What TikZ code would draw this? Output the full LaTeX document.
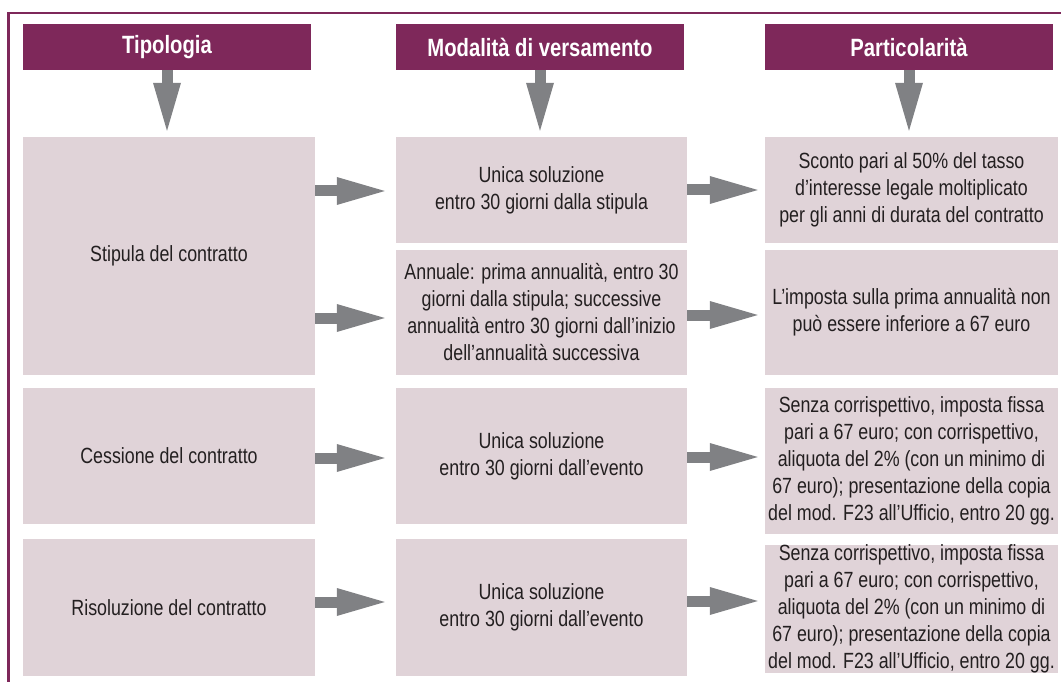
\documentclass[tikz,border=0pt]{standalone}
\usepackage{fontspec}
\setmainfont[FakeStretch=0.81]{Liberation Sans}
\usetikzlibrary{arrows.meta}
\definecolor{plum}{HTML}{7E285A}
\definecolor{boxpink}{HTML}{E0D3D8}
\definecolor{arrowgray}{HTML}{808184}
\definecolor{ink}{HTML}{231F20}
\begin{document}
\begin{tikzpicture}[x=1pt,y=-1pt,
  head/.style={fill=plum, text=white, font=\fontsize{25}{30}\selectfont\bfseries,
    minimum width=288pt, minimum height=46pt, inner sep=0pt},
  cell/.style={fill=boxpink, text=ink, font=\fontsize{22}{27}\selectfont,
    align=center, inner sep=0pt},
  tip/.style={-{Triangle[width=28pt,length=48pt,line width=0pt]}},
  downarrow/.style={draw=arrowgray, line width=11pt, tip, shorten >=6pt},
  rarrow/.style={draw=arrowgray, line width=11pt, tip},
  frame/.style={draw=plum, line width=2.5pt, line join=miter}]
\useasboundingbox (0,0) rectangle (1061,682);
\draw[frame] (8.5,682) -- (8.5,13) -- (1061,13);
% headers
\node[head] (h1) at (167,47) {Tipologia};
\node[head] (h2) at (540,47) {Modalità di versamento};
\node[head] (h3) at (909,47) {Particolarità};
% column 1
\node[cell, minimum width=292pt, minimum height=238pt] (t1) at (169,256) {Stipula del contratto};
\node[cell, minimum width=292pt, minimum height=136pt] (t2) at (169,456) {Cessione del contratto};
\node[cell, minimum width=292pt, minimum height=137pt] (t3) at (169,607.5) {Risoluzione del contratto};
% column 2
\node[cell, minimum width=291pt, minimum height=106pt] (m1) at (541.5,190) {Unica soluzione\\entro 30 giorni dalla stipula};
\node[cell, minimum width=291pt, minimum height=125pt] (m2) at (541.5,312.5) {Annuale: prima annualità, entro 30\\giorni dalla stipula; successive\\annualità entro 30 giorni dall’inizio\\dell’annualità successiva};
\node[cell, minimum width=291pt, minimum height=136pt] (m3) at (541.5,456) {Unica soluzione\\entro 30 giorni dall’evento};
\node[cell, minimum width=291pt, minimum height=137pt] (m4) at (541.5,607.5) {Unica soluzione\\entro 30 giorni dall’evento};
% column 3
\node[cell, minimum width=293pt, minimum height=106pt] (p1) at (911.5,190) {Sconto pari al 50\% del tasso\\d’interesse legale moltiplicato\\per gli anni di durata del contratto};
\node[cell, minimum width=293pt, minimum height=125pt] (p2) at (911.5,312.5) {L’imposta sulla prima annualità non\\può essere inferiore a 67 euro};
\node[cell, minimum width=293pt, minimum height=146pt] (p3) at (911.5,461) {Senza corrispettivo, imposta fissa\\pari a 67 euro; con corrispettivo,\\aliquota del 2\% (con un minimo di\\67 euro); presentazione della copia\\del mod. F23 all’Ufficio, entro 20 gg.};
\node[cell, minimum width=293pt, minimum height=126pt] (p4) at (911.5,609) {Senza corrispettivo, imposta fissa\\pari a 67 euro; con corrispettivo,\\aliquota del 2\% (con un minimo di\\67 euro); presentazione della copia\\del mod. F23 all’Ufficio, entro 20 gg.};
% down arrows
\draw[downarrow] (h1.south) -- (h1.south |- t1.north);
\draw[downarrow] (h2.south) -- (h2.south |- m1.north);
\draw[downarrow] (h3.south) -- (h3.south |- p1.north);
% right arrows
\draw[rarrow, shorten >=11pt] (t1.east |- 0,191) -- (m1.west |- 0,191);
\draw[rarrow, shorten >=11pt] (t1.east |- 0,318) -- (m2.west |- 0,318);
\draw[rarrow, shorten >=11pt] (t2.east |- 0,458) -- (m3.west |- 0,458);
\draw[rarrow, shorten >=11pt] (t3.east |- 0,602) -- (m4.west |- 0,602);
\draw[rarrow, shorten >=7pt] (m1.east |- 0,190) -- (p1.west |- 0,190);
\draw[rarrow, shorten >=7pt] (m2.east |- 0,315) -- (p2.west |- 0,315);
\draw[rarrow, shorten >=7pt] (m3.east |- 0,457) -- (p3.west |- 0,457);
\draw[rarrow, shorten >=7pt] (m4.east |- 0,601) -- (p4.west |- 0,601);
\end{tikzpicture}
\end{document}
